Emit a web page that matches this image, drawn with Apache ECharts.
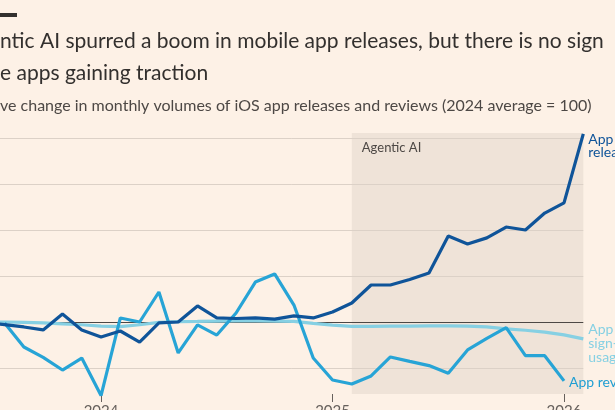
<!DOCTYPE html>
<html>
<head>
<meta charset="utf-8">
<script src="https://cdn.jsdelivr.net/npm/echarts@6/dist/echarts.min.js"></script>
<style>
    html, body { margin: 0; padding: 0; background: #fdf1e6; }
    #main { width: 615px; height: 410px; }
</style>
</head>
<body>
<div id="main"></div>
<script>
    // months Jul 2023 - Feb 2026
    var months = ['2023-07', '2023-08', '2023-09', '2023-10', '2023-11', '2023-12',
        '2024-01', '2024-02', '2024-03', '2024-04', '2024-05', '2024-06',
        '2024-07', '2024-08', '2024-09', '2024-10', '2024-11', '2024-12',
        '2025-01', '2025-02', '2025-03', '2025-04', '2025-05', '2025-06',
        '2025-07', '2025-08', '2025-09', '2025-10', '2025-11', '2025-12',
        '2026-01', '2026-02'];

    var releases = [99.5, 98.6, 97.3, 95.7, 104.3, 95.7,
        91.8, 95.1, 89.1, 99.5, 100, 108.7,
        102.2, 101.9, 102.2, 101.6, 103.3, 102.2,
        105.4, 110.3, 120.1, 120.1, 123.1, 126.6,
        146.7, 142.4, 145.7, 151.6, 150, 159.2,
        164.7, 202.2];

    var signInUsage = [100, 100, 99.8, 99.5, 99, 98.5,
        97.8, 97.5, 98.5, 99.8, 100.2, 100.3,
        100.5, 100.6, 100.6, 100.5, 100.3, 99.2,
        98.3, 97.6, 97.6, 97.8, 97.8, 97.9,
        97.9, 97.8, 97.3, 96.3, 95.5, 94.5,
        93, 90.8];

    var reviews = [null, 99.5, 86.4, 80.8, 73.9, 80.4,
        60, 102.2, 100, 116.3, 83.2, 98.4,
        92.9, 104.9, 121.7, 126.1, 109.2, 80.4,
        68.5, 66.3, 70.7, 81, 78.6, 76.3,
        72.1, 84.8, 91.1, 96.9, 81.7, 81.7,
        68, null];

    var gridValues = [75, 125, 150, 175, 200];
    var baseValue = 100;
    var agenticStart = '2025-02';
    var agenticEnd = '2026-02';

    var myChart = echarts.init(document.getElementById('main'));

    var isJan = function (index, value) {
        return String(value).slice(5) === '01';
    };

    var gridLines = gridValues.map(function (v) {
        return { yAxis: v, lineStyle: { color: '#dcd1c7', width: 1, type: 'solid' } };
    });
    gridLines.push({ yAxis: baseValue, lineStyle: { color: '#4d4845', width: 1, type: 'solid' } });

    var option = {
        backgroundColor: '#fdf1e6',
        animation: false,
        textStyle: { fontFamily: 'Lato' },
        title: [
            {
                text: 'ntic AI spurred a boom in mobile app releases, but there is no sign\ne apps gaining traction',
                left: 0,
                top: 25,
                padding: 0,
                textStyle: { fontFamily: 'Lato', fontSize: 21, fontWeight: 'normal', color: '#33302e', lineHeight: 32 }
            },
            {
                text: 've change in monthly volumes of iOS app releases and reviews (2024 average = 100)',
                left: 0,
                top: 96,
                padding: 0,
                textStyle: { fontFamily: 'Lato', fontSize: 16, fontWeight: 'normal', color: '#4d4845', lineHeight: 20 }
            }
        ],
        grid: {
            left: -14.7,
            right: 31.7,
            top: 133,
            bottom: 16,
            outerBoundsMode: 'none',
            containLabel: false
        },
        xAxis: {
            type: 'category',
            data: months,
            boundaryGap: false,
            axisLine: { show: false },
            axisTick: {
                show: true,
                interval: isJan,
                length: 8,
                lineStyle: { color: '#66605c', width: 1 }
            },
            axisLabel: {
                interval: isJan,
                formatter: function (v) { return v.slice(0, 4); },
                color: '#66605c',
                fontSize: 15,
                margin: 10
            },
            splitLine: { show: false }
        },
        yAxis: {
            type: 'value',
            min: 60.87,
            max: 202.7,
            axisLine: { show: false },
            axisTick: { show: false },
            axisLabel: { show: false },
            splitLine: { show: false }
        },
        series: [
            {
                name: 'App sign-in usage',
                type: 'line',
                data: signInUsage,
                z: 3,
                clip: false,
                symbol: 'none',
                lineStyle: { color: '#86d0e3', width: 3.2 },
                itemStyle: { color: '#86d0e3' },
                markArea: {
                    silent: true,
                    z: 0,
                    itemStyle: { color: '#efe3d8' },
                    label: {
                        show: true,
                        position: 'insideTopLeft',
                        distance: 8,
                        offset: [2, 0],
                        color: '#4d4845',
                        fontSize: 13,
                        fontFamily: 'Lato'
                    },
                    data: [[{ name: 'Agentic AI', xAxis: agenticStart }, { xAxis: agenticEnd }]]
                },
                markLine: {
                    silent: true,
                    z: 1,
                    symbol: 'none',
                    label: { show: false },
                    data: gridLines
                },
                endLabel: {
                    show: true,
                    formatter: 'App\nsign-in\nusage',
                    color: '#86d0e3',
                    fontSize: 14,
                    lineHeight: 14,
                    fontFamily: 'Lato',
                    distance: 5,
                    offset: [0, 5]
                }
            },
            {
                name: 'App reviews',
                type: 'line',
                data: reviews,
                z: 4,
                clip: false,
                symbol: 'none',
                lineStyle: { color: '#27a4d6', width: 3.2 },
                itemStyle: { color: '#27a4d6' },
                endLabel: {
                    show: true,
                    formatter: 'App reviews',
                    color: '#1f9ed2',
                    fontSize: 14,
                    fontFamily: 'Lato',
                    distance: 5,
                    offset: [0, 2]
                }
            },
            {
                name: 'App releases',
                type: 'line',
                data: releases,
                z: 5,
                clip: false,
                symbol: 'none',
                lineStyle: { color: '#0f5499', width: 3.2 },
                itemStyle: { color: '#0f5499' },
                endLabel: {
                    show: true,
                    formatter: 'App\nreleases',
                    color: '#0f5499',
                    fontSize: 14,
                    lineHeight: 13,
                    fontFamily: 'Lato',
                    distance: 5,
                    offset: [0, 12]
                }
            }
        ],
        graphic: [
            {
                type: 'rect',
                left: 0,
                top: 13,
                shape: { width: 17, height: 4 },
                style: { fill: '#33302e' }
            }
        ]
    };

    myChart.setOption(option);
</script>
</body>
</html>
